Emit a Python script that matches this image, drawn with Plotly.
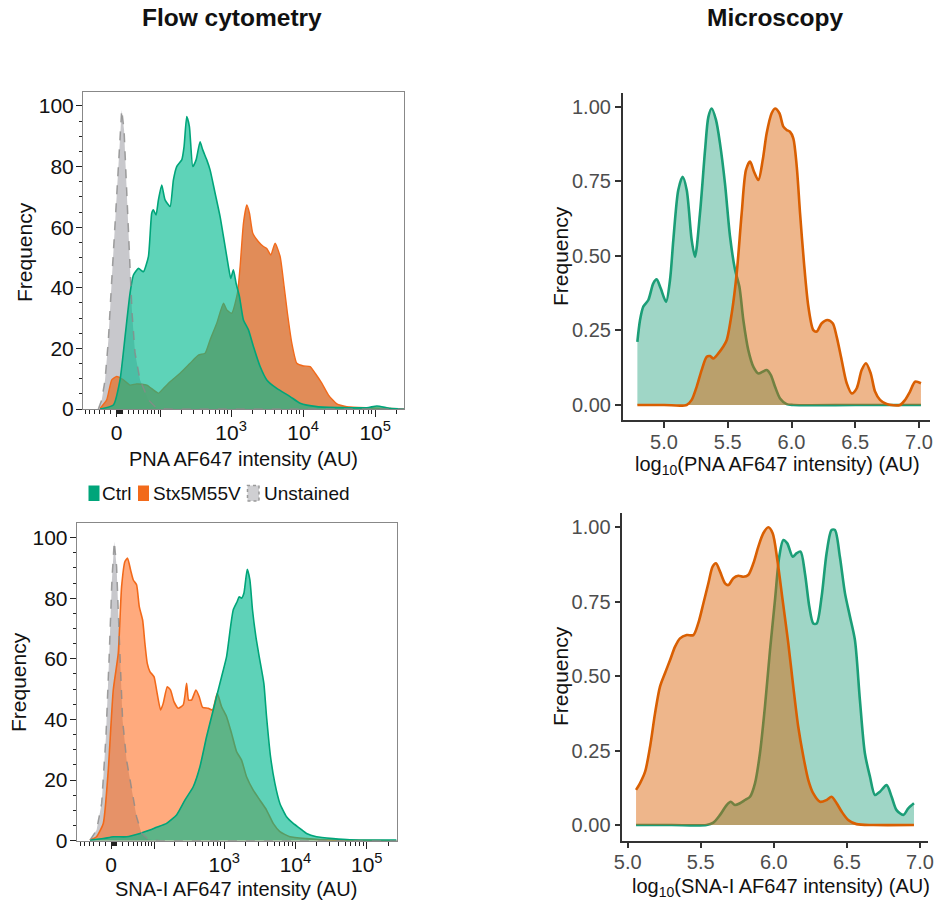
import math
import plotly.graph_objects as go

# ---------------- data ----------------
# Flow cytometry: x in display units of the biexponential axis (decades), y = frequency
pna_unst_x = [1.157, 1.204, 1.250, 1.296, 1.343, 1.389, 1.435, 1.481, 1.514, 1.551, 1.588, 1.625, 1.667, 1.736, 1.852, 1.968, 2.199, 5.403]
pna_unst_y = [0, 3.0, 9.6, 22.8, 42.6, 62.4, 83.3, 98.7, 92.1, 72.3, 50.3, 31.6, 18.4, 9.6, 3.0, 0.2, 0, 0]

pna_ctrl_x = [1.181, 1.366, 1.458, 1.528, 1.597, 1.644, 1.713, 1.782, 1.852, 1.898, 1.921, 1.958, 1.991, 2.037, 2.083, 2.153, 2.199, 2.245, 2.315, 2.347, 2.384, 2.421, 2.468, 2.514, 2.569, 2.606, 2.662, 2.708, 2.778, 2.847, 2.894, 2.963, 2.995, 3.032, 3.069, 3.116, 3.171, 3.241, 3.310, 3.403, 3.495, 3.634, 3.819, 3.958, 4.190, 4.884, 5.023, 5.208, 5.403]
pna_ctrl_y = [0, 1.3, 9.6, 23.9, 38.2, 44.2, 46.4, 45.3, 50.3, 64.6, 65.7, 64.0, 69.0, 73.9, 69.0, 66.8, 75.6, 80.0, 82.2, 86.6, 96.5, 93.2, 80.0, 82.2, 88.2, 85.5, 82.2, 78.9, 71.2, 63.5, 56.9, 47.0, 43.1, 45.9, 41.5, 37.1, 29.4, 26.1, 20.6, 14.0, 9.6, 6.8, 4.1, 1.9, 0.8, 0.4, 1.0, 0.2, 0]

pna_mut_x = [1.181, 1.273, 1.343, 1.412, 1.505, 1.597, 1.690, 1.829, 1.921, 1.991, 2.060, 2.153, 2.292, 2.431, 2.546, 2.639, 2.708, 2.801, 2.894, 2.940, 3.009, 3.088, 3.125, 3.171, 3.218, 3.255, 3.301, 3.380, 3.449, 3.495, 3.551, 3.611, 3.681, 3.736, 3.782, 3.843, 3.912, 4.005, 4.097, 4.167, 4.259, 4.352, 4.468, 4.606, 4.884, 5.403]
pna_mut_y = [0.2, 3.0, 9.6, 10.7, 9.6, 7.9, 8.3, 7.9, 6.3, 5.2, 6.8, 9.0, 11.8, 15.1, 17.8, 18.4, 22.8, 28.3, 34.9, 32.7, 31.6, 38.2, 47.0, 61.3, 67.3, 64.6, 58.0, 55.2, 53.6, 53.0, 50.8, 54.7, 50.3, 40.4, 31.6, 21.7, 15.1, 14.2, 14.0, 11.8, 8.5, 4.6, 1.7, 0.8, 0.4, 0]

sna_unst_x = [1.116, 1.209, 1.280, 1.340, 1.387, 1.424, 1.457, 1.490, 1.527, 1.574, 1.630, 1.700, 1.770, 1.841, 1.934, 2.098, 5.417]
sna_unst_y = [0.2, 3.5, 12.3, 34.3, 61.8, 86.0, 98.7, 90.4, 67.3, 39.8, 26.6, 16.7, 7.9, 2.4, 0.4, 0, 0]

sna_mut_x = [1.116, 1.209, 1.303, 1.373, 1.443, 1.513, 1.560, 1.607, 1.644, 1.686, 1.724, 1.770, 1.808, 1.855, 1.887, 1.920, 1.957, 2.014, 2.051, 2.107, 2.144, 2.201, 2.247, 2.294, 2.355, 2.425, 2.472, 2.500, 2.542, 2.603, 2.649, 2.696, 2.776, 2.836, 2.902, 2.963, 3.033, 3.103, 3.173, 3.243, 3.313, 3.407, 3.500, 3.594, 3.687, 3.781, 3.921, 4.155, 4.529, 5.417]
sna_mut_y = [0.2, 1.3, 5.7, 23.3, 49.7, 61.8, 83.8, 92.1, 93.2, 89.3, 86.0, 84.4, 77.2, 72.8, 65.1, 58.5, 55.8, 54.1, 49.7, 43.1, 45.3, 50.8, 49.7, 45.9, 43.7, 44.8, 51.9, 46.4, 46.4, 49.7, 47.5, 44.0, 43.7, 43.1, 48.6, 44.2, 40.9, 35.4, 29.4, 26.6, 21.1, 16.7, 13.4, 10.1, 5.7, 3.0, 1.3, 0.7, 0.2, 0]

sna_ctrl_x = [1.116, 1.303, 1.443, 1.630, 1.817, 1.957, 2.051, 2.191, 2.331, 2.448, 2.565, 2.659, 2.752, 2.846, 2.892, 2.963, 3.033, 3.089, 3.126, 3.182, 3.210, 3.243, 3.276, 3.323, 3.360, 3.397, 3.444, 3.491, 3.556, 3.594, 3.650, 3.711, 3.781, 3.874, 3.968, 4.061, 4.155, 4.295, 4.529, 4.763, 5.417]
sna_ctrl_y = [0.2, 0.7, 1.3, 1.3, 2.4, 3.5, 4.4, 5.7, 8.5, 13.4, 17.8, 24.4, 34.3, 43.1, 47.5, 54.1, 60.7, 70.6, 76.1, 78.9, 80.5, 80.0, 81.6, 89.5, 86.0, 76.1, 67.3, 60.7, 51.9, 40.9, 27.7, 18.9, 12.3, 7.9, 5.7, 4.1, 2.4, 1.3, 0.7, 0.3, 0.2]

# Microscopy: x = log10 intensity, y = scaled density
mic_pna_ctrl_x = [4.791, 4.812, 4.838, 4.877, 4.916, 4.942, 4.974, 5.016, 5.047, 5.073, 5.112, 5.146, 5.178, 5.217, 5.243, 5.282, 5.322, 5.348, 5.374, 5.408, 5.439, 5.478, 5.518, 5.557, 5.591, 5.622, 5.661, 5.701, 5.740, 5.774, 5.805, 5.837, 5.871, 5.910, 5.962, 6.014, 6.500, 7.015]
mic_pna_ctrl_y = [0.212, 0.285, 0.330, 0.352, 0.408, 0.421, 0.391, 0.346, 0.419, 0.553, 0.721, 0.765, 0.721, 0.553, 0.497, 0.642, 0.855, 0.966, 0.994, 0.955, 0.877, 0.743, 0.564, 0.453, 0.397, 0.285, 0.184, 0.128, 0.106, 0.112, 0.117, 0.101, 0.061, 0.022, 0.003, 0, 0, 0]

mic_pna_mut_x = [4.791, 5.000, 5.178, 5.217, 5.256, 5.295, 5.335, 5.361, 5.387, 5.426, 5.465, 5.492, 5.531, 5.570, 5.609, 5.643, 5.675, 5.706, 5.740, 5.774, 5.805, 5.844, 5.871, 5.905, 5.936, 5.962, 5.988, 6.014, 6.041, 6.067, 6.098, 6.132, 6.171, 6.197, 6.237, 6.281, 6.323, 6.354, 6.393, 6.433, 6.472, 6.511, 6.550, 6.584, 6.621, 6.655, 6.694, 6.746, 6.851, 6.890, 6.929, 6.969, 7.015]
mic_pna_mut_y = [0, 0, 0, 0.017, 0.061, 0.117, 0.162, 0.164, 0.156, 0.173, 0.196, 0.218, 0.307, 0.441, 0.642, 0.788, 0.816, 0.782, 0.754, 0.821, 0.911, 0.978, 0.994, 0.978, 0.933, 0.922, 0.916, 0.894, 0.799, 0.642, 0.475, 0.330, 0.251, 0.246, 0.274, 0.285, 0.274, 0.229, 0.151, 0.073, 0.039, 0.056, 0.117, 0.140, 0.106, 0.045, 0.017, 0.003, 0, 0.017, 0.045, 0.078, 0.073]

mic_sna_mut_x = [5.057, 5.084, 5.119, 5.153, 5.187, 5.221, 5.255, 5.290, 5.324, 5.358, 5.404, 5.449, 5.483, 5.518, 5.552, 5.581, 5.604, 5.632, 5.666, 5.689, 5.723, 5.757, 5.791, 5.825, 5.860, 5.894, 5.928, 5.962, 5.992, 6.024, 6.060, 6.099, 6.133, 6.167, 6.202, 6.236, 6.270, 6.316, 6.361, 6.395, 6.430, 6.464, 6.509, 6.566, 6.680, 6.959]
mic_sna_mut_y = [0.118, 0.140, 0.179, 0.263, 0.375, 0.465, 0.510, 0.554, 0.599, 0.627, 0.638, 0.638, 0.678, 0.745, 0.812, 0.868, 0.879, 0.851, 0.812, 0.806, 0.829, 0.837, 0.834, 0.840, 0.879, 0.935, 0.980, 1.000, 0.980, 0.890, 0.756, 0.610, 0.465, 0.330, 0.230, 0.151, 0.106, 0.078, 0.084, 0.095, 0.073, 0.045, 0.017, 0.003, 0, 0]

mic_sna_ctrl_x = [5.057, 5.300, 5.540, 5.586, 5.632, 5.677, 5.705, 5.734, 5.768, 5.803, 5.837, 5.871, 5.905, 5.939, 5.974, 6.008, 6.037, 6.065, 6.092, 6.129, 6.156, 6.183, 6.213, 6.243, 6.270, 6.293, 6.327, 6.361, 6.395, 6.418, 6.452, 6.487, 6.521, 6.555, 6.589, 6.623, 6.658, 6.692, 6.726, 6.772, 6.806, 6.840, 6.886, 6.920, 6.959]
mic_sna_ctrl_y = [0, 0, 0, 0.008, 0.034, 0.067, 0.078, 0.067, 0.073, 0.084, 0.095, 0.140, 0.241, 0.397, 0.588, 0.756, 0.901, 0.957, 0.946, 0.901, 0.913, 0.918, 0.845, 0.733, 0.677, 0.677, 0.767, 0.913, 0.991, 0.991, 0.901, 0.778, 0.700, 0.621, 0.420, 0.241, 0.162, 0.101, 0.112, 0.134, 0.095, 0.050, 0.034, 0.056, 0.073]

flow_tick_values = [0, 1e3, 1e4, 1e5]
flow_tick_labels = ["0", "10<sup>3</sup>", "10<sup>4</sup>", "10<sup>5</sup>"]
legend_labels = ["Ctrl", "Stx5M55V", "Unstained"]

# ---------------- helpers ----------------
W, H = 934, 902
FONT = "Liberation Sans, Arial, Helvetica, sans-serif"

U0, C = 1.412, 51.7
def T(v):
    return U0 + math.asinh(v / C) / math.log(10)

def px(x):
    return x / W
def py(y):
    return 1 - y / H

minor_raw = []
for dec in [1, 10, 100, 1000, 10000, 100000]:
    for m in range(2 if dec > 1 else 1, 10):
        minor_raw.append(m * dec)
minor_raw = [v for v in minor_raw if v not in (100,)]
minor_vals = [T(v) for v in minor_raw] + [T(-v) for v in [10, 20, 30, 40, 50, 60]] + [T(2e5)]
major_vals = [T(v) for v in flow_tick_values] + [T(100)]
major_text = flow_tick_labels + [""]

GREEN_FLOW_LINE = "#00a57a"
GREEN_FLOW_FILL = "rgba(0,185,142,0.63)"
ORANGE_LINE = "#f26a1b"
ORANGE_FILL_TOP = "rgba(222,128,70,0.9)"
ORANGE_FILL_BOT = "rgba(255,107,29,0.57)"
GRAY_FILL = "#c8c8cc"
GRAY_LINE = "#8a8a8a"
MIC_GREEN = "#1b9e77"
MIC_ORANGE = "#d95f02"

fig = go.Figure()

def flow_panel(xa, ya, ux, uy, cx, cy, mx, my, mut_fill, mut_line_w):
    fig.add_trace(go.Scatter(x=ux, y=uy, xaxis=xa, yaxis=ya, mode="lines", fill="tozeroy",
                             fillcolor=GRAY_FILL, line=dict(width=0, color=GRAY_FILL), showlegend=False, hoverinfo="skip"))
    fig.add_trace(go.Scatter(x=mx, y=my, xaxis=xa, yaxis=ya, mode="lines", fill="tozeroy",
                             fillcolor=mut_fill, line=dict(width=mut_line_w, color=ORANGE_LINE, shape="spline", smoothing=0.5),
                             showlegend=False))
    fig.add_trace(go.Scatter(x=cx, y=cy, xaxis=xa, yaxis=ya, mode="lines", fill="tozeroy",
                             fillcolor=GREEN_FLOW_FILL, line=dict(width=1.6, color=GREEN_FLOW_LINE, shape="spline", smoothing=0.5),
                             showlegend=False))
    fig.add_trace(go.Scatter(x=ux, y=uy, xaxis=xa, yaxis=ya, mode="lines",
                             line=dict(width=1.5, color=GRAY_LINE, dash="dash"), opacity=0.8, showlegend=False, hoverinfo="skip"))

flow_panel("x", "y", pna_unst_x, pna_unst_y, pna_ctrl_x, pna_ctrl_y, pna_mut_x, pna_mut_y, ORANGE_FILL_TOP, 1.4)
flow_panel("x2", "y2", sna_unst_x, sna_unst_y, sna_ctrl_x, sna_ctrl_y, sna_mut_x, sna_mut_y, ORANGE_FILL_BOT, 1.6)

def mic_panel(xa, ya, gx, gy, ox, oy):
    fig.add_trace(go.Scatter(x=gx, y=gy, xaxis=xa, yaxis=ya, mode="lines", fill="tozeroy",
                             fillcolor="rgba(27,158,119,0.42)", line=dict(width=2.6, color=MIC_GREEN, shape="spline", smoothing=0.8),
                             showlegend=False))
    fig.add_trace(go.Scatter(x=ox, y=oy, xaxis=xa, yaxis=ya, mode="lines", fill="tozeroy",
                             fillcolor="rgba(217,95,2,0.46)", line=dict(width=2.6, color=MIC_ORANGE, shape="spline", smoothing=0.8),
                             showlegend=False))

mic_panel("x3", "y3", mic_pna_ctrl_x, mic_pna_ctrl_y, mic_pna_mut_x, mic_pna_mut_y)
mic_panel("x4", "y4", mic_sna_ctrl_x, mic_sna_ctrl_y, mic_sna_mut_x, mic_sna_mut_y)

tickfont = dict(family=FONT, size=21, color="#111")
mic_tickfont = dict(family=FONT, size=20, color="#4d4d4d")

def flow_x(domain, rng, anchor):
    return dict(domain=domain, range=rng, anchor=anchor, showgrid=False, zeroline=False, automargin=False,
                showline=True, mirror=True, linecolor="#888", linewidth=1,
                tickmode="array", tickvals=major_vals, ticktext=major_text, ticklabelstandoff=-2,
                ticks="outside", ticklen=7, tickwidth=1.4, tickcolor="#222", tickfont=tickfont,
                minor=dict(tickmode="array", tickvals=minor_vals, ticks="outside", ticklen=4, tickwidth=1, tickcolor="#222"))

def flow_y(domain, rng, anchor):
    return dict(domain=domain, range=rng, anchor=anchor, showgrid=False, zeroline=False, automargin=False,
                showline=True, mirror=True, linecolor="#888", linewidth=1,
                tickmode="array", tickvals=[0, 20, 40, 60, 80, 100], ticklabelstandoff=-2,
                ticks="outside", ticklen=6, tickwidth=1.4, tickcolor="#222", tickfont=tickfont,
                minor=dict(dtick=5, tick0=0, ticks="outside", ticklen=3, tickwidth=1, tickcolor="#222"))

def mic_x(domain, rng, anchor):
    return dict(domain=domain, range=rng, anchor=anchor, showgrid=False, zeroline=False, automargin=False,
                showline=True, linecolor="#333", linewidth=1.5,
                tickmode="array", tickvals=[5.0, 5.5, 6.0, 6.5, 7.0], ticktext=["5.0", "5.5", "6.0", "6.5", "7.0"],
                ticklabelstandoff=-3,
                ticks="outside", ticklen=6, tickwidth=1.5, tickcolor="#333", tickfont=mic_tickfont)

def mic_y(domain, rng, anchor):
    return dict(domain=domain, range=rng, anchor=anchor, showgrid=False, zeroline=False, automargin=False,
                showline=True, linecolor="#333", linewidth=1.5,
                tickmode="array", tickvals=[0, 0.25, 0.5, 0.75, 1.0], ticktext=["0.00", "0.25", "0.50", "0.75", "1.00"],
                ticks="outside", ticklen=6, tickwidth=1.5, tickcolor="#333", tickfont=mic_tickfont)

fig.update_layout(
    width=W, height=H, margin=dict(l=0, r=0, t=0, b=0, autoexpand=False),
    paper_bgcolor="white", plot_bgcolor="white",
    font=dict(family=FONT, size=20, color="#111"),
    xaxis=flow_x([px(83), px(404)], [0.944, 5.40], "y"),
    yaxis=flow_y([py(409), py(92)], [0, 104.6], "x"),
    xaxis2=flow_x([px(76.7), px(396.7)], [0.93, 5.42], "y2"),
    yaxis2=flow_y([py(840.7), py(522.7)], [0, 104.9], "x2"),
    xaxis3=mic_x([px(622.7), px(930)], [4.676, 7.086], "y3"),
    yaxis3=mic_y([py(420), py(93)], [-0.0503, 1.0459], "x3"),
    xaxis4=mic_x([px(622.3), px(928)], [4.963, 7.055], "y4"),
    yaxis4=mic_y([py(840.7), py(513)], [-0.0527, 1.048], "x4"),
    showlegend=False,
)

def ann(text, x, y, size=20, bold=False, angle=0, xanchor="center", color="#111"):
    if bold:
        text = "<b>" + text + "</b>"
    fig.add_annotation(text=text, x=px(x), y=py(y), xref="paper", yref="paper", showarrow=False,
                       xanchor=xanchor, yanchor="middle", textangle=angle,
                       font=dict(family=FONT, size=size, color=color))

ann("Flow cytometry", 232, 18, size=24.5, bold=True)
ann("Microscopy", 775, 18, size=24.5, bold=True)
ann("Frequency", 25, 252, size=21, angle=-90)
ann("Frequency", 18, 682, size=21, angle=-90)
ann("Frequency", 560, 256, size=21, angle=-90)
ann("Frequency", 560, 676, size=21, angle=-90)
ann("PNA AF647 intensity (AU)", 243, 459)
ann("SNA-I AF647 intensity (AU)", 236, 889)
ann("log<sub>10</sub>(PNA AF647 intensity) (AU)", 777, 465)
ann("log<sub>10</sub>(SNA-I AF647 intensity) (AU)", 781, 887)

# legend
sw_y0, sw_y1 = 485.5, 501
swatches = [(88.5, 99.5, "#00a57a", None), (138, 149, ORANGE_LINE, None), (247.5, 259, "#cfcfd2", "#9a9a9a")]
text_x = [100, 150.5, 262]
for (x0, x1, fc, lc), lab, tx in zip(swatches, legend_labels, text_x):
    fig.add_shape(type="rect", xref="paper", yref="paper", x0=px(x0), x1=px(x1), y0=py(sw_y1), y1=py(sw_y0),
                  fillcolor=fc, line=dict(width=1.5 if lc else 0, color=lc or fc, dash="dot"))
    ann(lab, tx, 493.5, size=19, xanchor="left")

fig.write_html("out.html", config={"displayModeBar": False},
               post_script="document.body.style.margin='0px';document.body.style.overflow='hidden';")
